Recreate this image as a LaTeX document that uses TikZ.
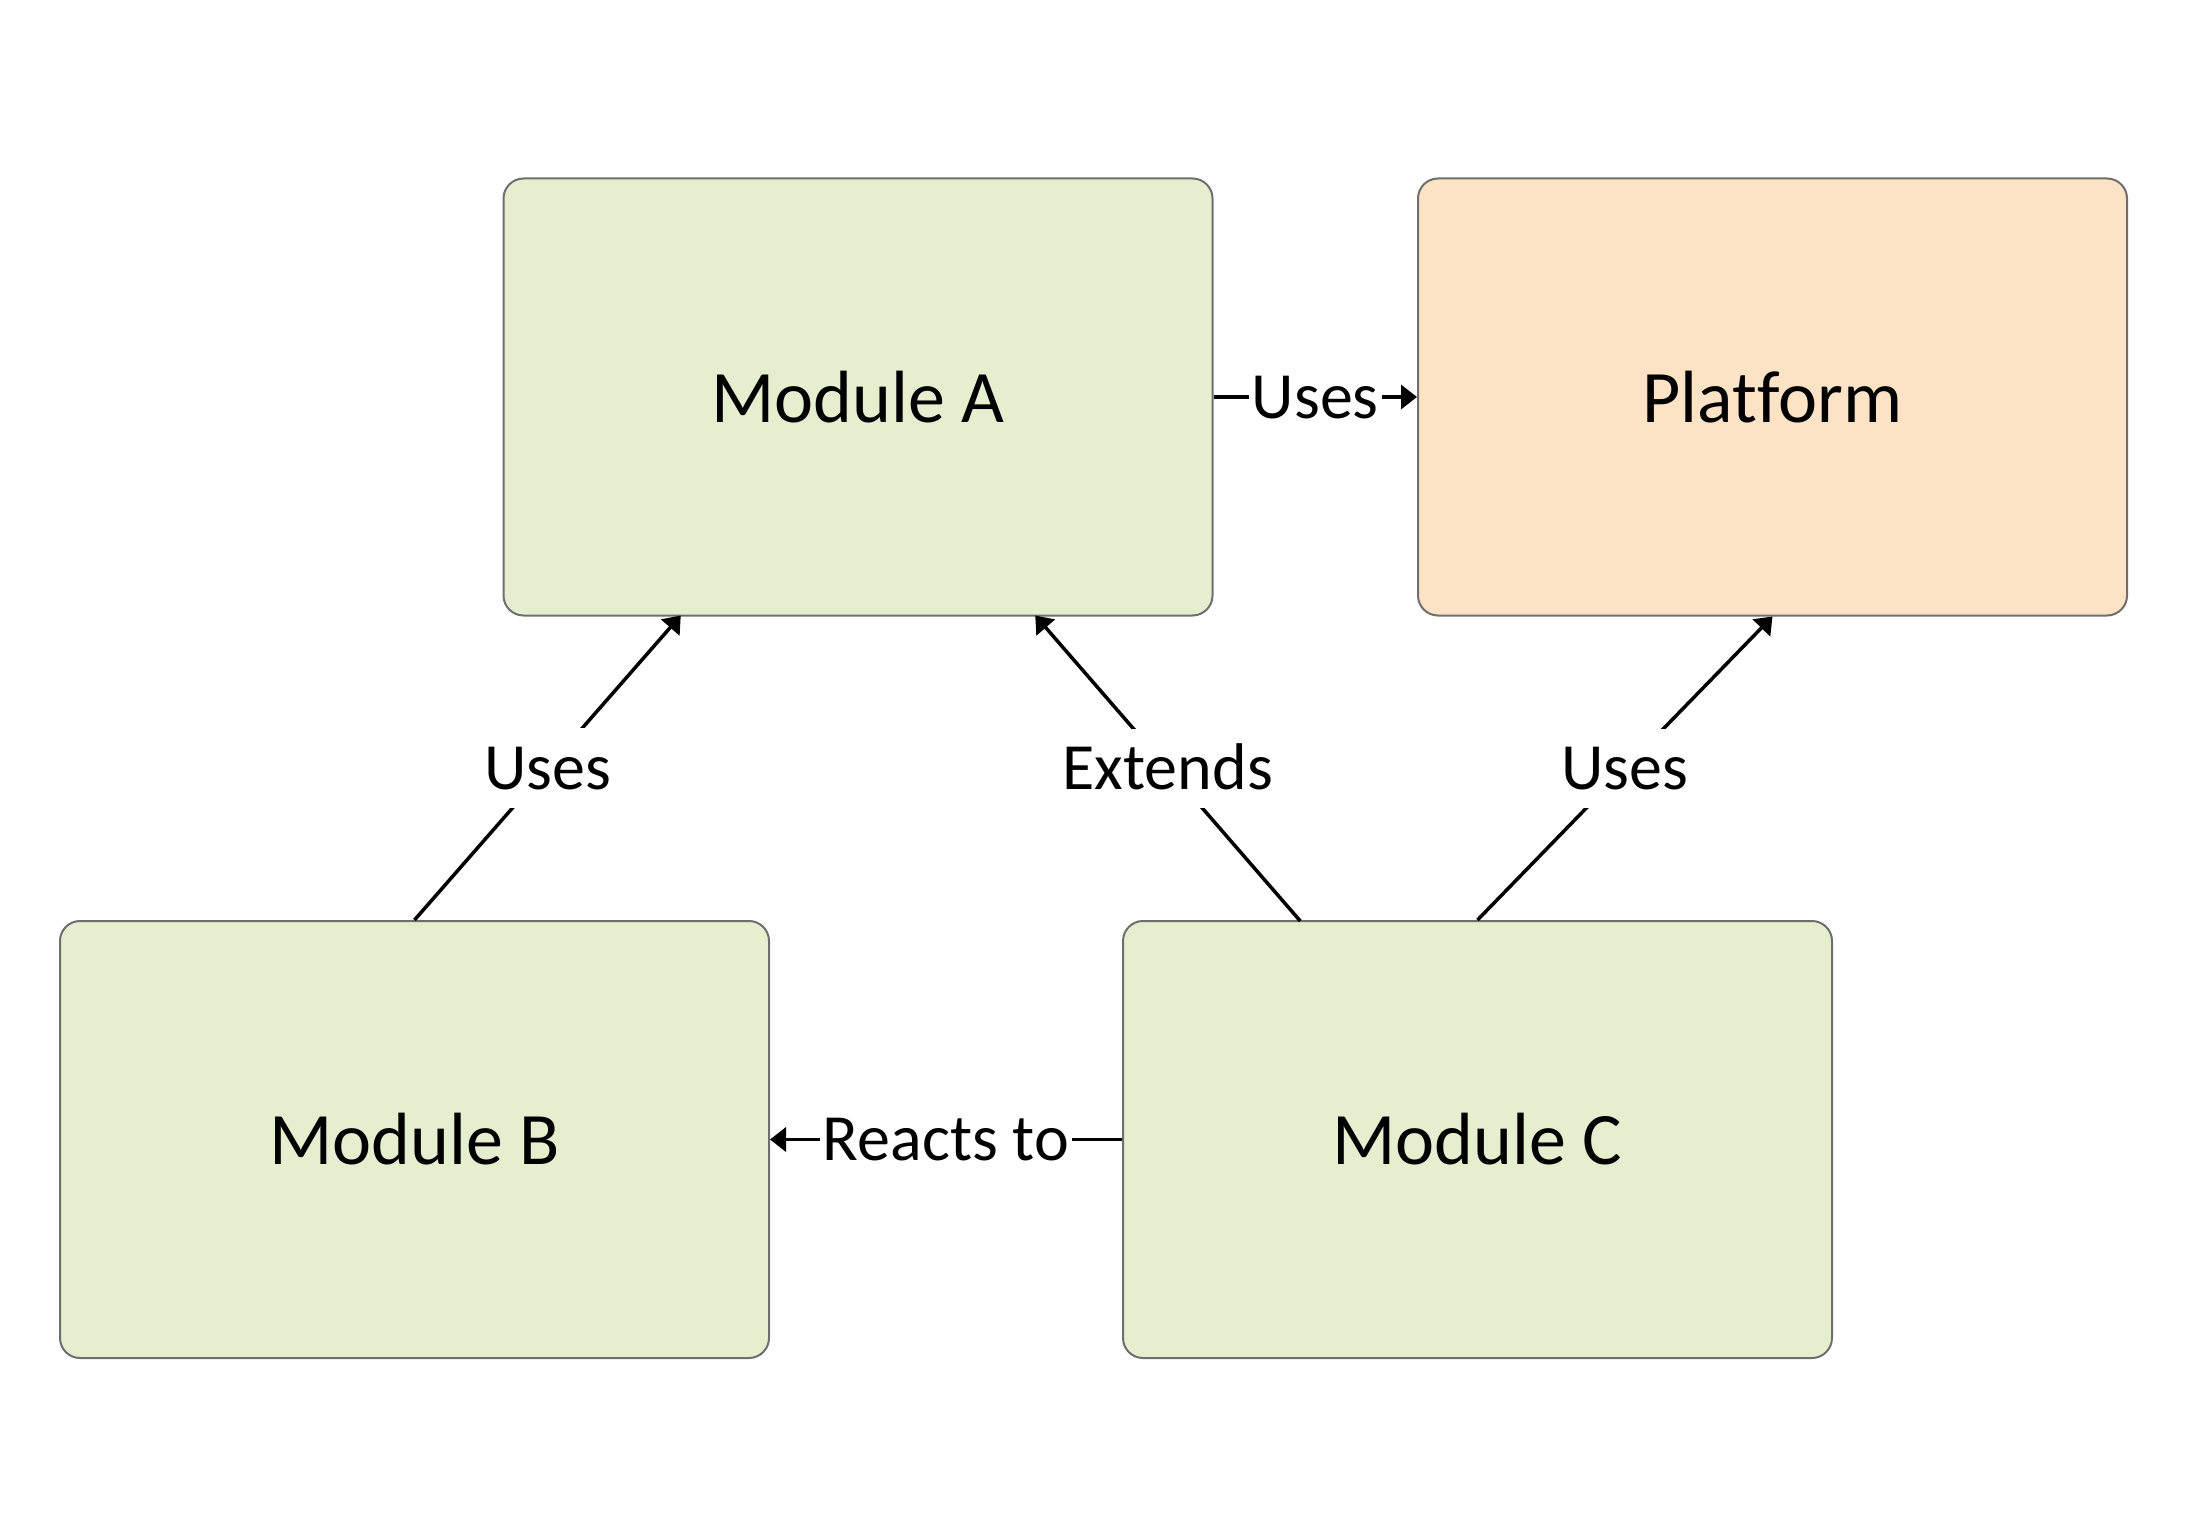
\documentclass[tikz,border=0pt]{standalone}
\usepackage{fontspec}
\setmainfont[Ligatures=NoCommon]{Carlito}
\usetikzlibrary{arrows.meta}
\definecolor{modgreen}{HTML}{E5EFCF}
\definecolor{platpeach}{HTML}{FDE3C6}
\definecolor{edgegray}{HTML}{6E6E6E}
\tikzset{
  modbox/.style={rectangle, rounded corners=20pt, draw=edgegray, line width=2pt,
    minimum width=709pt, minimum height=437pt, inner sep=0pt,
    font=\fontsize{74}{88}\selectfont},
  arr/.style={draw=black, line width=3.5pt, -{Triangle[length=16pt,width=24pt]}},
  lbl/.style={fill=white, inner xsep=3pt, inner ysep=8pt, text height=53pt, text depth=10.5pt,
    font=\fontsize{66}{78}\selectfont}
}
\begin{document}
\begin{tikzpicture}[x=1pt,y=-1pt]
\useasboundingbox (0,0) rectangle (2188,1538);
\node[modbox, fill=modgreen] (A) at (858,397) {Module A};
\node[modbox, fill=platpeach] (P) at (1772.5,397) {Platform};
\node[modbox, fill=modgreen] (B) at (414.5,1139.5) {Module B};
\node[modbox, fill=modgreen] (C) at (1477.5,1139.5) {Module C};
\coordinate (aq) at (680.75,615.5);
\coordinate (a3q) at (1035.25,615.5);
\coordinate (c1q) at (1300.25,921);
\draw[arr] (A.east) -- node[lbl] {Uses} (P.west);
\draw[arr] (C.west) -- node[lbl] {Reacts to} (B.east);
\draw[arr] (B.north) -- node[lbl] {Uses} (aq);
\draw[arr] (c1q) -- node[lbl] {Extends} (a3q);
\draw[arr] (C.north) -- node[lbl] {Uses} (P.south);
\end{tikzpicture}
\end{document}
